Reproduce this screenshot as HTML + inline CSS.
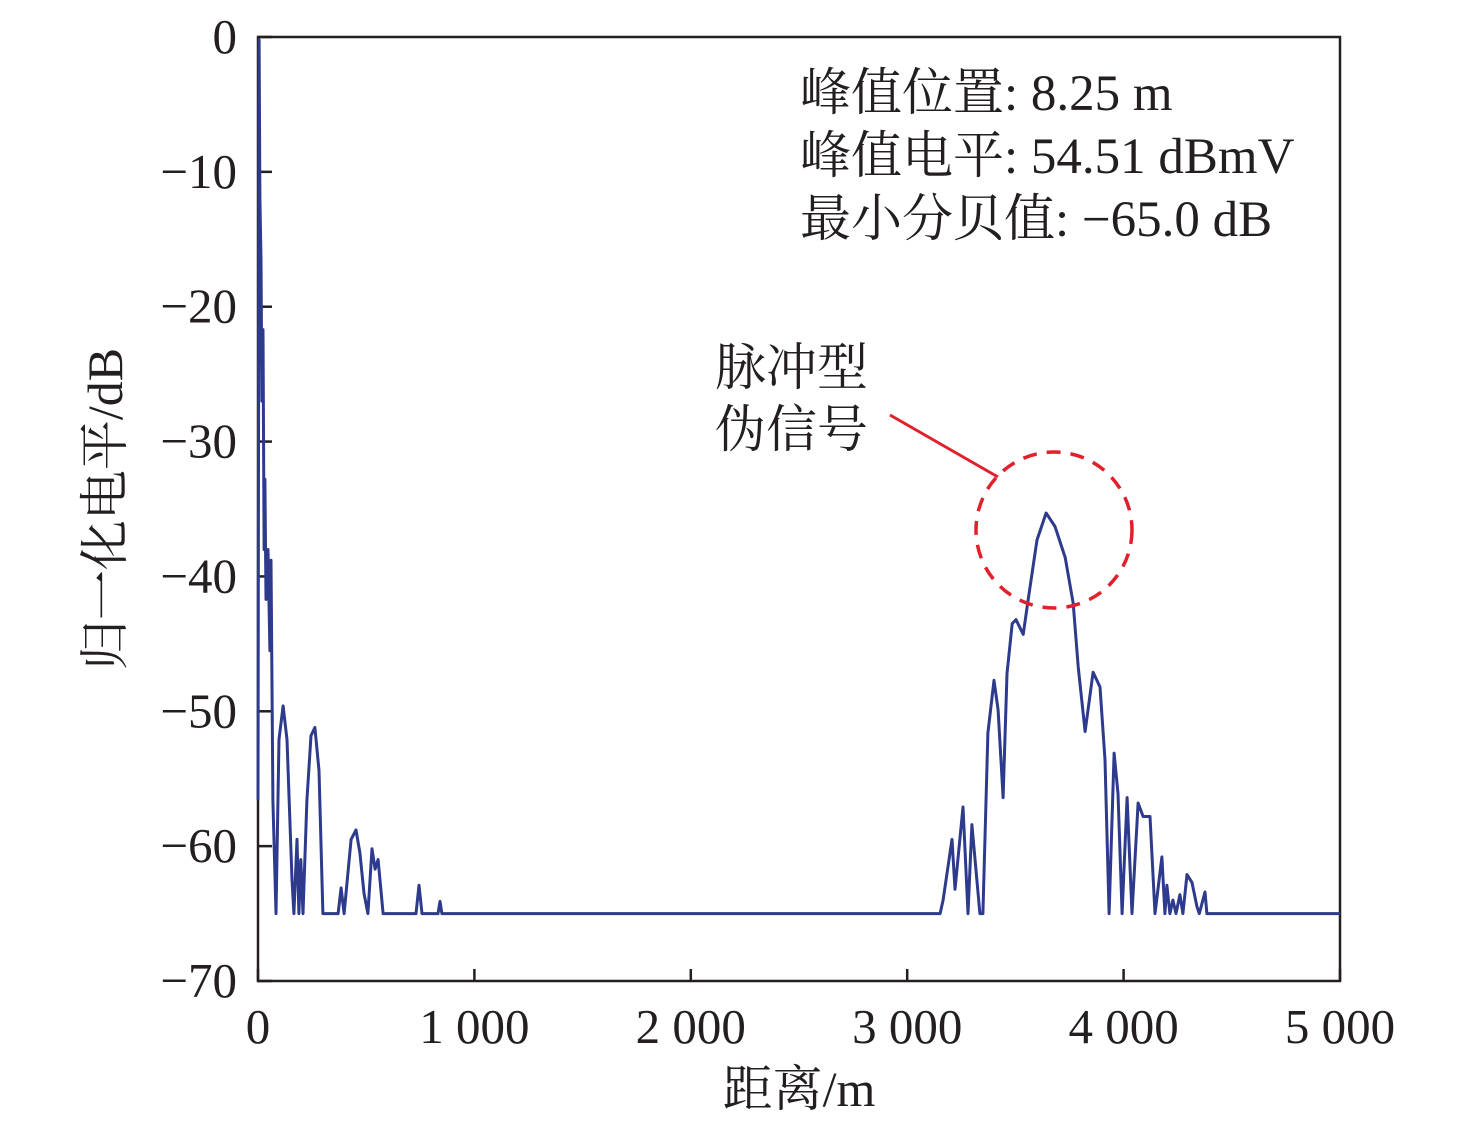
<!DOCTYPE html>
<html><head><meta charset="utf-8">
<style>
html,body{margin:0;padding:0;background:#fff;}
svg text{font-family:"Liberation Serif","Noto Serif CJK SC",serif;fill:#231f20;}
</style></head>
<body>
<svg id="chart" width="1476" height="1132" xmlns="http://www.w3.org/2000/svg">
<g id="axes"></g>
<path id="series" fill="none" stroke="#2e3a8c" stroke-width="3" stroke-linejoin="round"/>
<text x="800" y="110" font-size="51">峰值位置: 8.25 m</text>
<text x="800" y="173" font-size="51">峰值电平: 54.51 dBmV</text>
<text x="800" y="236" font-size="51">最小分贝值: −65.0 dB</text>
<text x="715" y="385" font-size="51">脉冲型</text>
<text x="715" y="447" font-size="51">伪信号</text>
<line x1="890" y1="415" x2="998" y2="477" stroke="#e0202a" stroke-width="3"/>
<ellipse cx="1054" cy="530" rx="78" ry="78" fill="none" stroke="#e0202a" stroke-width="3.5" stroke-dasharray="14,10"/>
<text x="799" y="1106" font-size="50" text-anchor="middle">距离/m</text>
<text transform="translate(122,509) rotate(-90)" font-size="50" text-anchor="middle">归一化电平/dB</text>
</svg>
<script>
const xTicks=[0,1000,2000,3000,4000,5000];
const xTickLabels=["0","1 000","2 000","3 000","4 000","5 000"];
const yTicks=[0,-10,-20,-30,-40,-50,-60,-70];
const yTickLabels=["0","−10","−20","−30","−40","−50","−60","−70"];
const distances=[0,5,9,14,18,23,28,32,37,46,55,60,69,83,97,116,134,157,166,180,189,198,208,226,245,263,282,300,370,384,398,430,453,471,490,508,527,541,555,578,730,744,758,832,841,850,3152,3166,3207,3221,3258,3281,3299,3336,3350,3373,3401,3420,3443,3461,3485,3503,3536,3559,3600,3642,3683,3730,3767,3790,3822,3859,3891,3914,3933,3956,3974,3993,4016,4039,4067,4090,4122,4145,4177,4191,4200,4214,4228,4242,4260,4274,4293,4316,4339,4350,4376,4385,5000];
const levels=[-56.6,-0.2,-12,-16.5,-27,-21.7,-38,-32.8,-41.7,-38,-45.5,-38.8,-56.6,-65,-52.1,-49.6,-52.1,-62.5,-65,-59.5,-65,-61,-65,-56.6,-51.8,-51.2,-54.4,-65,-65,-63.1,-65,-59.5,-58.8,-60.5,-63.5,-65,-60.2,-61.7,-61,-65,-65,-62.9,-65,-65,-64.1,-65,-65,-64,-59.5,-63.2,-57.1,-65,-58.4,-65,-65,-51.6,-47.7,-49.9,-56.4,-47.2,-43.5,-43.2,-44.3,-41.7,-37.3,-35.3,-36.3,-38.6,-42,-46.7,-51.5,-47.1,-48.2,-53.6,-65,-53.1,-56.1,-65,-56.4,-65,-56.8,-57.8,-57.8,-65,-60.8,-65,-62.9,-65,-64,-65,-63.6,-65,-62.1,-62.7,-64.5,-65,-63.4,-65,-65];
const X0=258,X1=1340,Y0=37,Y1=981;
function sx(v){return X0+(v-0)/5000*(X1-X0);}
function sy(v){return Y0+(0-v)/70*(Y1-Y0);}
const NS="http://www.w3.org/2000/svg";
const ax=document.getElementById('axes');
function mk(t,a){const e=document.createElementNS(NS,t);for(const k in a)e.setAttribute(k,a[k]);return e;}
const frame=mk('rect',{x:X0,y:Y0,width:X1-X0,height:Y1-Y0,fill:'none',stroke:'#231f20','stroke-width':2.5});


ax.appendChild(frame);
xTicks.forEach((v,i)=>{
  const l=mk('line',{x1:sx(v),x2:sx(v),y1:Y1,y2:Y1-12,stroke:'#231f20','stroke-width':2.5});
  
  
  ax.appendChild(l);
  const t=mk('text',{x:sx(v),y:1043,'font-size':49,'text-anchor':'middle'});
  
  
  t.textContent=xTickLabels[i];ax.appendChild(t);
});
yTicks.forEach((v,i)=>{
  const l=mk('line',{x1:X0,x2:X0+14,y1:sy(v),y2:sy(v),stroke:'#231f20','stroke-width':2.5});
  
  
  ax.appendChild(l);
  const t=mk('text',{x:237,y:sy(v)+16,'font-size':49,'text-anchor':'end'});
  
  
  t.textContent=yTickLabels[i];ax.appendChild(t);
});
let d='';
distances.forEach((v,i)=>{d+=(i?'L':'M')+sx(v).toFixed(1)+','+sy(levels[i]).toFixed(1);});
document.getElementById('series').setAttribute('d',d);
</script>
</body></html>
